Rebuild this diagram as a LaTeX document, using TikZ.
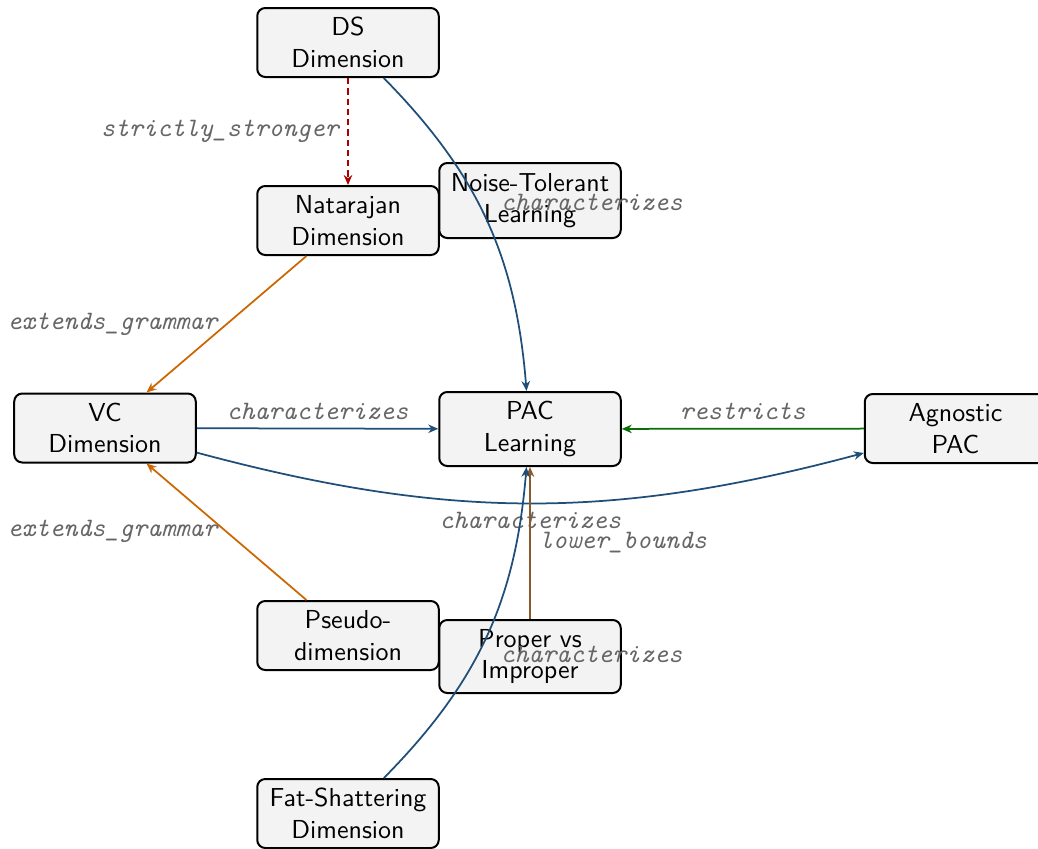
\documentclass[tikz,border=0pt]{standalone}
\usepackage{fontspec}
\usetikzlibrary{arrows.meta}
\definecolor{nfill}{HTML}{F3F3F3}
\definecolor{eblue}{HTML}{1F4E79}
\definecolor{eorange}{HTML}{CC6600}
\definecolor{egreen}{HTML}{0A6E0A}
\definecolor{ebrown}{HTML}{8B5A2B}
\definecolor{ered}{HTML}{AA0000}
\definecolor{labgray}{HTML}{666666}
\begin{document}
\begin{tikzpicture}[x=0.4pt,y=0.4pt,
  box/.style={draw=black, line width=0.8pt, fill=nfill, rounded corners=3.2pt,
    minimum width=72.6pt, minimum height=27.6pt, align=center, inner sep=2pt,
    font=\sffamily\fontsize{10.4}{12.6}\selectfont},
  rel/.style={line width=0.7pt, -{Stealth[length=4pt,width=3.4pt,inset=1.3pt]}},
  lab/.style={font=\ttfamily\itshape\fontsize{10.65}{12}\selectfont, text=labgray}]
\useasboundingbox (0,0) rectangle (1038,-848);
\clip (0,0) rectangle (1038,-848);
% nodes
\node[box] (ds) at (348,-42.5) {DS\\Dimension};
\node[box] (nat) at (348,-220.5) {Natarajan\\Dimension};
\node[box, minimum height=30pt] (noise) at (530,-200.5) {Noise-Tolerant\\Learning};
\node[box] (vc) at (105,-428) {VC\\Dimension};
\node[box, minimum height=29.6pt] (pac) at (530,-429) {PAC\\Learning};
\node[box] (agn) at (955.5,-428.5) {Agnostic\\PAC};
\node[box] (pseudo) at (348,-635.5) {Pseudo-\\dimension};
\node[box, minimum height=29.2pt] (proper) at (530,-656.5) {Proper vs\\Improper};
\node[box] (fat) at (348,-813.5) {Fat-Shattering\\Dimension};
% edges
\draw[rel, ered, dash pattern=on 2.5pt off 1.6pt] (ds) -- node[lab, left]{strictly\_stronger} (nat);
\draw[rel, eblue] (ds) to[bend left=20] node[lab, above right, xshift=2pt]{characterizes} (pac);
\draw[rel, eorange] (nat) -- node[lab, left]{extends\_grammar} (vc);
\draw[rel, eorange] (pseudo) -- node[lab, left]{extends\_grammar} (vc);
\draw[rel, eblue] (vc) -- node[lab, above]{characterizes} (pac);
\draw[rel, egreen] (agn) -- node[lab, above]{restricts} (pac);
\draw[rel, eblue] (vc) to[bend right=15] node[lab, below]{characterizes} (agn);
\draw[rel, ebrown] (proper) -- node[lab, right]{lower\_bounds} (pac);
\draw[rel, eblue] (fat) to[bend right=20] node[lab, below right, xshift=2pt]{characterizes} (pac);
\end{tikzpicture}
\end{document}
